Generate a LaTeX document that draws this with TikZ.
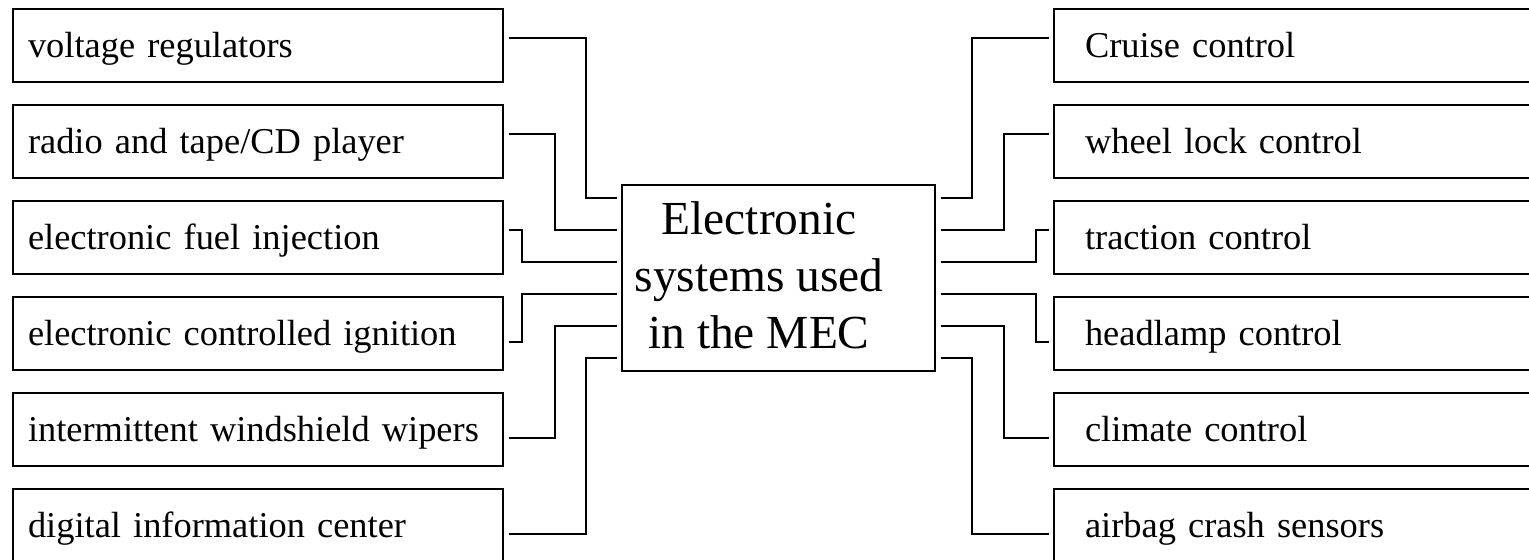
\documentclass[tikz,border=0pt]{standalone}
\usepackage{fontspec}
\setmainfont{Liberation Serif}
\begin{document}
\begin{tikzpicture}[
                x = 0.5pt, y = -0.5pt,
                sys/.style = {draw, line width = 1pt, rectangle, align = left, minimum height = 36.5pt,
                    outer xsep = 2.75pt, text height = 16.4pt, text depth = 4.4pt,
                    font = \fontsize{18.2}{22}\selectfont},
                lsys/.style = {sys, inner xsep = 7.5pt, text width = 230pt},
                rsys/.style = {sys, inner xsep = 15.5pt, text width = 214pt},
                mecbox/.style = {draw, line width = 1pt, rectangle, minimum width = 156.5pt,
                    minimum height = 93pt, outer xsep = 2.75pt},
                mectxt/.style = {align = center, inner sep = 0pt, font = \fontsize{23.7}{28.5}\selectfont},
                wire/.style = {draw, line width = 1pt},
            ]
            \useasboundingbox (0,0) rectangle (1529,559);

            \node (MEC) [mecbox] at (778.5, 278) {};
            \node (MECT) [mectxt] at (759, 275) {Electronic\\systems used\\in the MEC};

            \node (L1) [lsys] at (258, 45.5) {voltage regulators};
            \node (L2) [lsys] at (258, 141.5) {radio and tape/CD player};
            \node (L3) [lsys] at (258, 237.5) {electronic fuel injection};
            \node (L4) [lsys] at (258, 333.5) {electronic controlled ignition};
            \node (L5) [lsys] at (258, 429.5) {\mbox{intermittent windshield wipers}};
            \node (L6) [lsys] at (258, 525.5) {digital information center};

            \node (R1) [rsys] at (1299, 45.5) {Cruise control};
            \node (R2) [rsys] at (1299, 141.5) {wheel lock control};
            \node (R3) [rsys] at (1299, 237.5) {traction control};
            \node (R4) [rsys] at (1299, 333.5) {headlamp control};
            \node (R5) [rsys] at (1299, 429.5) {climate control};
            \node (R6) [rsys] at (1299, 525.5) {airbag crash sensors};

            \path[wire] ([yshift=4pt]L1.east) -- ++(77,0) |- ([yshift=40pt]MEC.west);
            \path[wire] ([yshift=4pt]L2.east) -- ++(46,0) |- ([yshift=24pt]MEC.west);
            \path[wire] ([yshift=4pt]L3.east) -- ++(13,0) |- ([yshift=8pt]MEC.west);
            \path[wire] ([yshift=-4pt]L4.east) -- ++(13,0) |- ([yshift=-8pt]MEC.west);
            \path[wire] ([yshift=-4pt]L5.east) -- ++(46,0) |- ([yshift=-24pt]MEC.west);
            \path[wire] ([yshift=-4pt]L6.east) -- ++(77,0) |- ([yshift=-40pt]MEC.west);

            \path[wire] ([yshift=40pt]MEC.east) -- ++(31,0) |- ([yshift=4pt]R1.west);
            \path[wire] ([yshift=24pt]MEC.east) -- ++(63,0) |- ([yshift=4pt]R2.west);
            \path[wire] ([yshift=8pt]MEC.east) -- ++(95,0) |- ([yshift=4pt]R3.west);
            \path[wire] ([yshift=-8pt]MEC.east) -- ++(95,0) |- ([yshift=-4pt]R4.west);
            \path[wire] ([yshift=-24pt]MEC.east) -- ++(63,0) |- ([yshift=-4pt]R5.west);
            \path[wire] ([yshift=-40pt]MEC.east) -- ++(31,0) |- ([yshift=-4pt]R6.west);
        \end{tikzpicture}
\end{document}
